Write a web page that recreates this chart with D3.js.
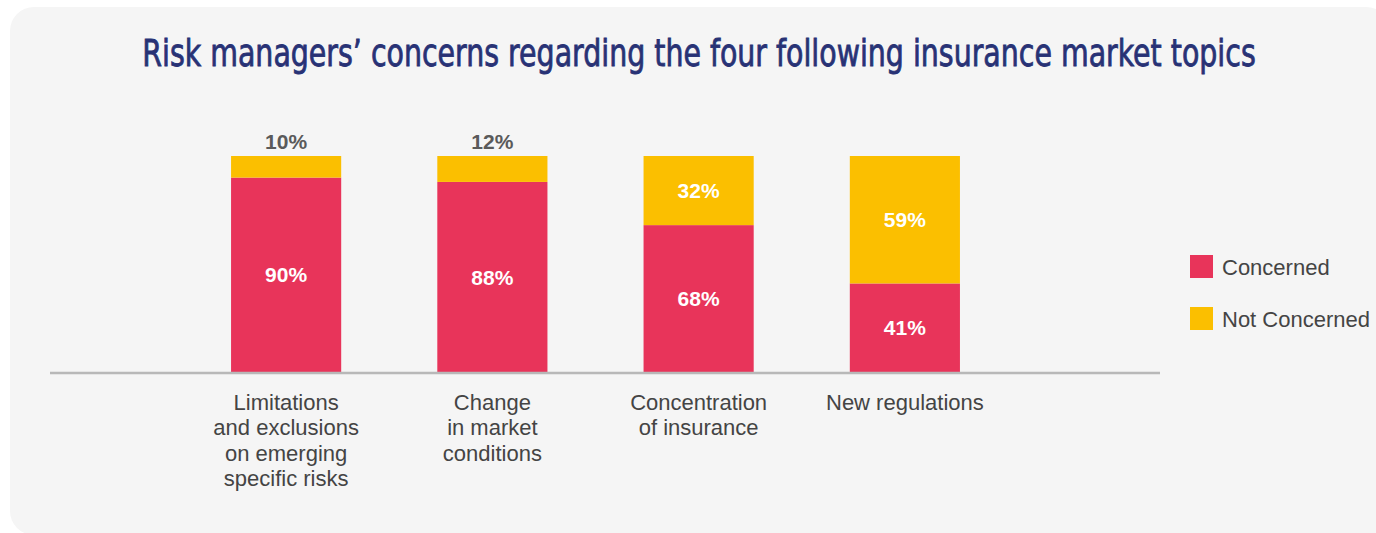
<!DOCTYPE html>
<html>
<head>
<meta charset="utf-8">
<title>Risk managers' concerns</title>
<style>
  html, body { margin: 0; padding: 0; background: #ffffff; }
  svg { display: block; }
</style>
</head>
<body>
<script src="https://d3js.org/d3.v7.min.js"></script>
<script>
var categories = [
  "Limitations\nand exclusions\non emerging\nspecific risks",
  "Change\nin market\nconditions",
  "Concentration\nof insurance",
  "New regulations"
];
var concerned = [90, 88, 68, 41];
var notConcerned = [10, 12, 32, 59];
var seriesNames = ["Concerned", "Not Concerned"];
var seriesColors = ["#e8345a", "#fbbf00"];
var title = "Risk managers\u2019 concerns regarding the four following insurance market topics";

var width = 1376, height = 533;

var svg = d3.select("body").append("svg")
  .attr("width", width)
  .attr("height", height);

// panel
svg.append("rect")
  .attr("x", 10).attr("y", 7)
  .attr("width", 1380).attr("height", 528)
  .attr("rx", 24)
  .attr("fill", "#f5f5f5");

var titleG = svg.append("g");
var titleText = titleG.append("text")
  .attr("x", 0).attr("y", 0)
  .attr("text-anchor", "middle")
  .attr("font-family", "'Liberation Sans Narrow', 'DejaVu Sans Condensed', Arial, sans-serif")
  .attr("font-size", 38)
  .attr("fill", "#283275")
  .attr("stroke", "#283275")
  .attr("stroke-width", 0.8)
  .text(title);
// squeeze horizontally so the title keeps the condensed look of the original
var tw = titleText.node().getComputedTextLength();
var sx = tw > 0 ? Math.min(1, 1114 / tw) : 1;
titleG.attr("transform", "translate(699,66) scale(" + sx + ",1)");

var x = d3.scaleBand()
  .domain(categories)
  .range([183, 1008])
  .paddingInner(0.466)
  .paddingOuter(0.233);

var y = d3.scaleLinear()
  .domain([0, 100])
  .range([372, 156]);

var rows = categories.map(function(c, i) {
  return { cat: c, concerned: concerned[i], notConcerned: notConcerned[i] };
});
var stack = d3.stack().keys(["concerned", "notConcerned"])(rows);

var layers = svg.append("g").selectAll("g")
  .data(stack)
  .enter().append("g")
  .attr("fill", function(d, i) { return seriesColors[i]; });

layers.selectAll("rect")
  .data(function(d) { return d; })
  .enter().append("rect")
  .attr("x", function(d) { return x(d.data.cat); })
  .attr("y", function(d) { return y(d[1]); })
  .attr("width", x.bandwidth())
  .attr("height", function(d) { return y(d[0]) - y(d[1]); });

// value labels
stack.forEach(function(layer) {
  layer.forEach(function(d) {
    var v = d[1] - d[0];
    var cx = x(d.data.cat) + x.bandwidth() / 2;
    var small = y(d[0]) - y(d[1]) < 30;
    svg.append("text")
      .attr("x", cx)
      .attr("y", small ? y(d[1]) - 7 : (y(d[0]) + y(d[1])) / 2)
      .attr("dy", small ? 0 : "0.36em")
      .attr("text-anchor", "middle")
      .attr("font-family", "'Liberation Sans', Arial, sans-serif")
      .attr("font-weight", "bold")
      .attr("font-size", 21)
      .attr("fill", small ? "#5a5a5a" : "#ffffff")
      .text(v + "%");
  });
});

// baseline
svg.append("line")
  .attr("x1", 50).attr("x2", 1160)
  .attr("y1", y(0) + 1).attr("y2", y(0) + 1)
  .attr("stroke", "#b8b8b8")
  .attr("stroke-width", 2.5);

// category labels
var xAxis = svg.append("g").selectAll("text")
  .data(categories)
  .enter().append("text")
  .attr("text-anchor", "middle")
  .attr("font-family", "'Liberation Sans', Arial, sans-serif")
  .attr("font-size", 22)
  .attr("fill", "#444444");

xAxis.each(function(c) {
  var t = d3.select(this);
  c.split("\n").forEach(function(line, k) {
    t.append("tspan")
      .attr("x", x(c) + x.bandwidth() / 2)
      .attr("y", 410 + k * 25.3)
      .text(line);
  });
});

// legend
var legend = svg.append("g").selectAll("g")
  .data(seriesNames)
  .enter().append("g")
  .attr("transform", function(d, i) { return "translate(1190," + (255 + i * 52) + ")"; });

legend.append("rect")
  .attr("width", 23).attr("height", 23)
  .attr("fill", function(d, i) { return seriesColors[i]; });

legend.append("text")
  .attr("x", 32).attr("y", 12)
  .attr("dy", "0.36em")
  .attr("font-family", "'Liberation Sans', Arial, sans-serif")
  .attr("font-size", 22)
  .attr("fill", "#444444")
  .text(function(d) { return d; });
</script>
</body>
</html>
